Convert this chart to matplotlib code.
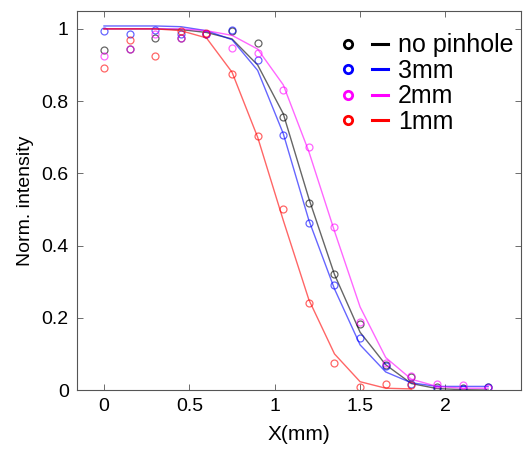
import matplotlib.pyplot as plt
from matplotlib.legend_handler import HandlerTuple
from matplotlib.lines import Line2D

plt.rcParams["font.family"] = ["Liberation Sans", "DejaVu Sans"]

# Sampling positions (mm).
x = [0, 0.15, 0.3, 0.45, 0.6, 0.75, 0.9, 1.05, 1.2, 1.35, 1.5, 1.65, 1.8, 1.95, 2.1, 2.25]
x_red = x[:13]

# Measured points.
pts_none = [0.942, 0.944, 0.974, 0.975, 0.985, 0.995, 0.96, 0.755, 0.518, 0.322, 0.182, 0.07, 0.037, 0.008, 0.005, 0.008]
pts_3mm = [0.993, 0.985, 0.997, 0.985, 0.985, 0.997, 0.913, 0.706, 0.463, 0.29, 0.143, 0.066, 0.018, 0.003, 0.003, 0.009]
pts_2mm = [0.924, 0.944, 0.985, 0.975, 0.985, 0.947, 0.932, 0.832, 0.672, 0.451, 0.187, 0.076, 0.04, 0.016, 0.015, 0.006]
pts_1mm = [0.893, 0.970, 0.925, 0.994, 0.988, 0.875, 0.704, 0.50, 0.242, 0.076, 0.007, 0.017, 0.014]

# Fitted curves.
fit_none = [1.0, 1.0, 1.0, 0.998, 0.99, 0.972, 0.90, 0.765, 0.53, 0.32, 0.16, 0.07, 0.018, 0.004, 0.001, 0.0]
fit_3mm = [1.008, 1.008, 1.008, 1.006, 0.995, 0.97, 0.885, 0.71, 0.47, 0.28, 0.125, 0.05, 0.02, 0.01, 0.01, 0.01]
fit_2mm = [1.0, 1.0, 1.0, 1.0, 0.995, 0.982, 0.944, 0.845, 0.66, 0.44, 0.23, 0.09, 0.03, 0.01, 0.005, 0.005]
fit_1mm = [1.0, 1.0, 1.0, 0.995, 0.975, 0.88, 0.70, 0.47, 0.25, 0.10, 0.023, 0.005, 0.003]

labels = ["no pinhole", "3mm", "2mm", "1mm"]
colors = ["black", "#0000ff", "#ff00ff", "#ff0000"]

fig = plt.figure(figsize=(5.26, 4.5), dpi=100)
ax = fig.add_axes([0.1464, 0.1333, 0.8446, 0.8427])

series = [
    (x, pts_none, fit_none),
    (x, pts_3mm, fit_3mm),
    (x, pts_2mm, fit_2mm),
    (x_red, pts_1mm, fit_1mm),
]

handles = []
for (xs, pts, fit), c in zip(series, colors):
    ax.plot(xs, fit, "-", color=c, lw=1.0, alpha=0.6)
    ax.plot(xs, pts, "o", mfc="none", mec=c, ms=5, mew=0.9, alpha=0.6)
    h_m = Line2D([], [], ls="none", marker="o", mfc="none", mec=c, ms=6, mew=2)
    h_l = Line2D([], [], color=c, lw=2.2)
    handles.append((h_m, h_l))

ax.legend(
    handles,
    labels,
    handler_map={tuple: HandlerTuple(ndivide=None, pad=0.6)},
    loc="upper right",
    bbox_to_anchor=(1.016, 0.98),
    frameon=False,
    fontsize=18,
    handlelength=1.9,
    handletextpad=0.4,
    labelspacing=0.06,
    borderaxespad=0.2,
)

ax.set_xlim(-0.158, 2.444)
ax.set_ylim(0, 1.05)
ax.set_xticks([0, 0.5, 1, 1.5, 2])
ax.set_xticklabels(["0", "0.5", "1", "1.5", "2"])
ax.set_yticks([0, 0.2, 0.4, 0.6, 0.8, 1])
ax.set_yticklabels(["0", "0.2", "0.4", "0.6", "0.8", "1"])
ax.tick_params(direction="in", top=True, right=True, labelsize=14, length=4, width=0.6,
               color="#555555", pad=6)
for s in ax.spines.values():
    s.set_color("#555555")
    s.set_linewidth(0.8)

ax.set_xlabel("X(mm)", fontsize=15, labelpad=7)
ax.set_ylabel("Norm. intensity", fontsize=14, labelpad=5)

fig.savefig("out.png", dpi=100)
